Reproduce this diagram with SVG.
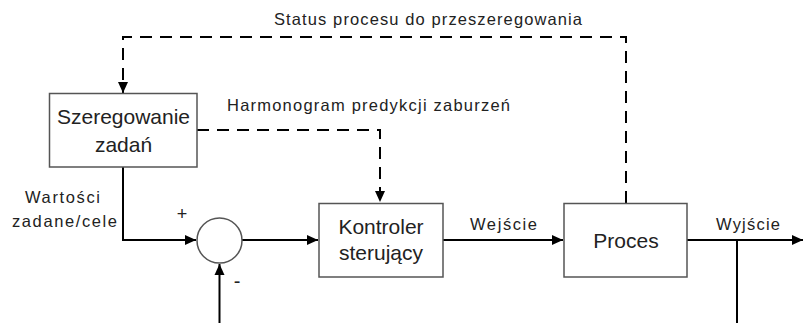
<svg xmlns="http://www.w3.org/2000/svg" width="803" height="323" viewBox="0 0 803 323">
<style>
.box{fill:#fff;stroke:#555;stroke-width:1.5}
.ln{fill:none;stroke:#000;stroke-width:2}
.dash{fill:none;stroke:#000;stroke-width:2;stroke-dasharray:12 8}
.t{font-family:"Liberation Sans",Arial,sans-serif;fill:#222}
.big{font-size:21px;text-anchor:middle}
.lbl{font-size:16.5px}
</style>
<defs>
<marker id="ar" markerUnits="userSpaceOnUse" markerWidth="12" markerHeight="12" viewBox="0 0 12 12" refX="11" refY="6" orient="auto">
<path d="M0,1 L11,6 L0,11 Z" fill="#000"/>
</marker>
</defs>
<rect width="803" height="323" fill="#fff"/>
<g id="connectors">
<path class="dash" d="M626,203 V37 H123 V93" marker-end="url(#ar)"/>
<path class="dash" d="M197,130 H380 V202" marker-end="url(#ar)"/>
<path class="ln" d="M123,167 V240 H196" marker-end="url(#ar)"/>
<path class="ln" d="M242,240 H318" marker-end="url(#ar)"/>
<path class="ln" d="M443,240 H563" marker-end="url(#ar)"/>
<path class="ln" d="M687,240 H803" marker-end="url(#ar)"/>
<path class="ln" d="M737,240 V323"/>
<path class="ln" d="M219.5,323 V264" marker-end="url(#ar)"/>
</g>
<g id="szeregowanie">
<rect class="box" x="49.5" y="93.5" width="147.5" height="73.5"/>
<text class="t big" x="123.5" y="124">Szeregowanie</text>
<text class="t big" x="123.5" y="152">zadań</text>
</g>
<g id="sumator">
<circle cx="219.5" cy="240.5" r="22.5" fill="#fff" stroke="#555" stroke-width="1.5"/>
</g>
<g id="kontroler">
<rect class="box" x="319" y="203.5" width="124" height="73.5"/>
<text class="t big" x="381" y="234">Kontroler</text>
<text class="t big" x="381" y="260">sterujący</text>
</g>
<g id="proces">
<rect class="box" x="564" y="203.5" width="123" height="73.5"/>
<text class="t big" x="626" y="248">Proces</text>
</g>
<g id="labels">
<text class="t lbl" x="274" y="25" textLength="308" lengthAdjust="spacing">Status procesu do przeszeregowania</text>
<text class="t lbl" x="227" y="111" textLength="283" lengthAdjust="spacing">Harmonogram predykcji zaburzeń</text>
<text class="t lbl" x="25" y="203" textLength="75" lengthAdjust="spacing">Wartości</text>
<text class="t lbl" x="12" y="227" textLength="105" lengthAdjust="spacing">zadane/cele</text>
<text class="t lbl" x="470" y="230" textLength="67" lengthAdjust="spacing">Wejście</text>
<text class="t lbl" x="716" y="230" textLength="64" lengthAdjust="spacing">Wyjście</text>
<text class="t" x="182" y="220" text-anchor="middle" font-size="18">+</text>
<text class="t" x="237" y="288" text-anchor="middle" font-size="20">-</text>
</g>
</svg>
